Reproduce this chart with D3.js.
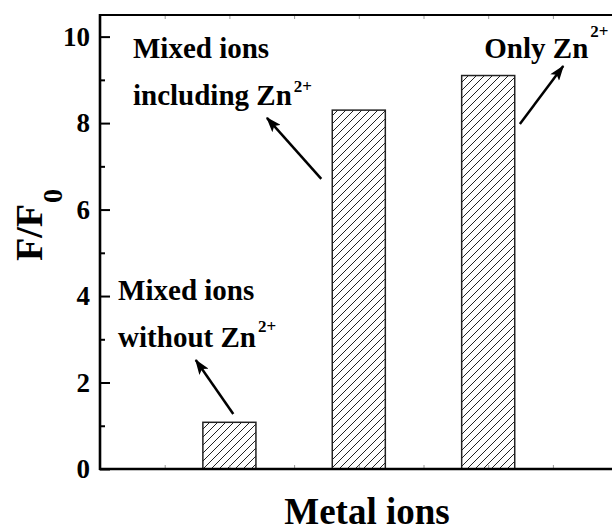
<!DOCTYPE html>
<html>
<head>
<meta charset="utf-8">
<script src="https://cdn.jsdelivr.net/npm/d3@7"></script>
<style>
  html, body { margin: 0; padding: 0; background: #fff; }
  svg { display: block; }
  text { font-family: "Liberation Serif", "Times New Roman", serif; font-weight: bold; fill: #000; }
</style>
</head>
<body>
<svg id="chart" width="612" height="532"></svg>
<script>
// Fluorescence enhancement F/F0 for each metal-ion group
const categories = ["Mixed ions without Zn2+", "Mixed ions including Zn2+", "Only Zn2+"];
const positions = [2, 4, 6];
const ratios = [1.08, 8.3, 9.1];

const yMajorTicks = [0, 2, 4, 6, 8, 10];
const yMinorTicks = [1, 3, 5, 7, 9];
const xMinorTicks = [1, 2, 3, 4, 5, 6, 7, 8];

// Annotation labels: lines of text, the last line ending in a Zn superscript
const labelLines = [
  ["Mixed ions", "without Zn"],
  ["Mixed ions", "including Zn"],
  ["Only Zn"]
];
const labelSup = "2+";
// label anchor in data units (x, baseline of first line)
const labelX = [0.28, 0.51, 5.94];
const labelY = [3.91, 9.51, 9.51];
// arrows: tail -> head in data units
const arrowFrom = [[2.06, 1.27], [3.42, 6.71], [6.49, 7.98]];
const arrowTo = [[1.48, 2.52], [2.58, 8.12], [7.16, 9.32]];

const svg = d3.select("#chart");
const plotLeft = 100, plotTop = 15, plotBottom = 469;
const x = d3.scaleLinear().domain([0, 8]).range([plotLeft, plotLeft + 8 * 64.7]);
const y = d3.scaleLinear().domain([0, 10.5]).range([plotBottom, plotTop]);
const barWidth = 0.82;

// hatch pattern for the bars
const defs = svg.append("defs");
const pat = defs.append("pattern")
  .attr("id", "hatch")
  .attr("patternUnits", "userSpaceOnUse")
  .attr("width", 8).attr("height", 8);
pat.append("rect").attr("width", 8).attr("height", 8).attr("fill", "#fff");
pat.append("path")
  .attr("d", "M-2,2 L2,-2 M0,8 L8,0 M6,10 L10,6")
  .attr("stroke", "#222").attr("stroke-width", 1);

defs.append("marker")
  .attr("id", "head")
  .attr("viewBox", "0 0 14 10")
  .attr("refX", 13).attr("refY", 5)
  .attr("markerUnits", "userSpaceOnUse")
  .attr("markerWidth", 16).attr("markerHeight", 11)
  .attr("orient", "auto")
  .append("path").attr("d", "M0,0 L14,5 L0,10 L3,5 Z").attr("fill", "#000");

// bars
svg.append("g").selectAll("rect")
  .data(ratios)
  .join("rect")
  .attr("x", (d, i) => x(positions[i] - barWidth / 2))
  .attr("width", (d, i) => x(positions[i] + barWidth / 2) - x(positions[i] - barWidth / 2))
  .attr("y", d => y(d))
  .attr("height", d => y(0) - y(d))
  .attr("fill", "url(#hatch)")
  .attr("stroke", "#222")
  .attr("stroke-width", 1.5);

// x ticks (small, unlabeled) on bottom and top
const xb = svg.append("g").attr("transform", `translate(0,${plotBottom})`)
  .call(d3.axisBottom(x).tickValues(xMinorTicks).tickSize(-4).tickFormat(""));
xb.selectAll(".tick line").attr("stroke", "#999").attr("stroke-width", 1);
xb.select(".domain").remove();
const xt = svg.append("g").attr("transform", `translate(0,${plotTop})`)
  .call(d3.axisTop(x).tickValues(xMinorTicks).tickSize(-4).tickFormat(""));
xt.selectAll(".tick line").attr("stroke", "#999").attr("stroke-width", 1);
xt.select(".domain").remove();

// y axis, ticks pointing inward
const ya = svg.append("g").attr("transform", `translate(${plotLeft},0)`)
  .call(d3.axisLeft(y).tickValues(yMajorTicks).tickSize(-10).tickPadding(10).tickFormat(d3.format("d")));
ya.select(".domain").remove();
ya.selectAll(".tick line").attr("stroke", "#000").attr("stroke-width", 2);
ya.selectAll(".tick text")
  .style("font-family", "'Liberation Serif', 'Times New Roman', serif")
  .style("font-weight", "bold")
  .style("font-size", "27px")
  .attr("fill", "#000");
const ym = svg.append("g").attr("transform", `translate(${plotLeft},0)`)
  .call(d3.axisLeft(y).tickValues(yMinorTicks).tickSize(-5).tickFormat(""));
ym.select(".domain").remove();
ym.selectAll(".tick line").attr("stroke", "#000").attr("stroke-width", 2);

// frame lines
svg.append("line").attr("x1", plotLeft).attr("x2", plotLeft).attr("y1", plotTop - 1).attr("y2", plotBottom + 1)
  .attr("stroke", "#000").attr("stroke-width", 2.6);
svg.append("line").attr("x1", plotLeft - 1).attr("x2", 612).attr("y1", plotBottom).attr("y2", plotBottom)
  .attr("stroke", "#000").attr("stroke-width", 2.6);
svg.append("line").attr("x1", plotLeft - 1).attr("x2", 612).attr("y1", plotTop).attr("y2", plotTop)
  .attr("stroke", "#000").attr("stroke-width", 2.2);

// annotation arrows
svg.append("g").selectAll("line")
  .data(arrowFrom)
  .join("line")
  .attr("x1", d => x(d[0])).attr("y1", d => y(d[1]))
  .attr("x2", (d, i) => x(arrowTo[i][0])).attr("y2", (d, i) => y(arrowTo[i][1]))
  .attr("stroke", "#000").attr("stroke-width", 2.5)
  .attr("marker-end", "url(#head)");

// annotation labels
const supRaise = [15, 13, 21];
labelLines.forEach((lines, i) => {
  lines.forEach((line, j) => {
    const t = svg.append("text")
      .attr("x", x(labelX[i]))
      .attr("y", y(labelY[i]) + j * 47)
      .style("font-size", "29px")
      .text(line);
    if (j === lines.length - 1) {
      t.append("tspan")
        .attr("dx", 2)
        .attr("dy", -supRaise[i])
        .style("font-size", "17px")
        .text(labelSup);
    }
  });
});

// axis titles
svg.append("text")
  .attr("x", 367).attr("y", 524)
  .attr("text-anchor", "middle")
  .style("font-size", "37px")
  .text("Metal ions");

const yt = svg.append("text")
  .attr("transform", "translate(42,261) rotate(-90)")
  .style("font-size", "38px")
  .text("F/F");
yt.append("tspan").attr("dy", 20).attr("dx", 1).style("font-size", "28px").text("0");
</script>
</body>
</html>
